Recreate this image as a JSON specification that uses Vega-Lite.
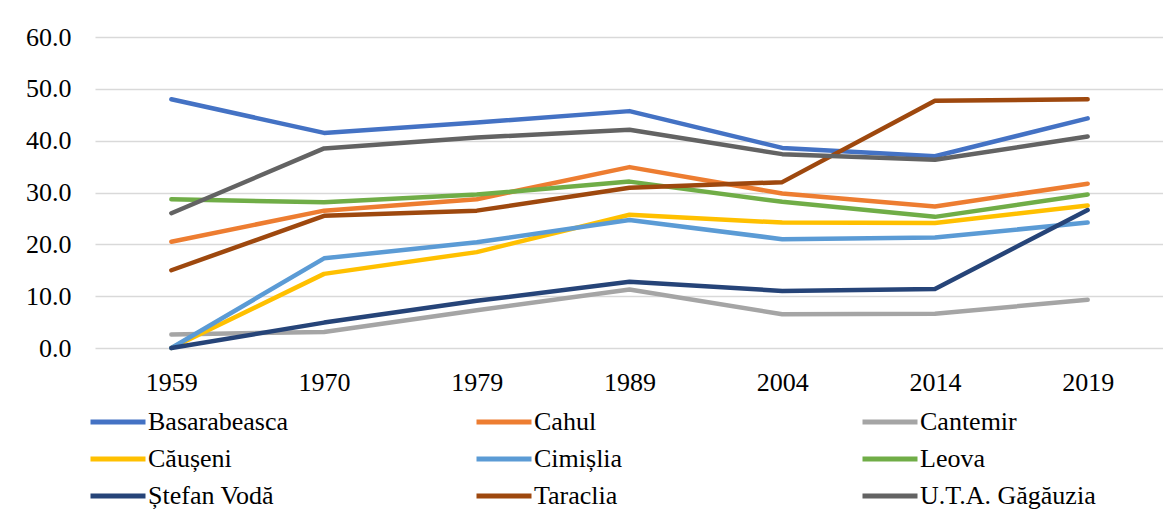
{
  "$schema": "https://vega.github.io/schema/vega-lite/v6.json",
  "autosize": "none",
  "width": 1069,
  "height": 311,
  "padding": {"left": 95, "top": 37, "right": 0, "bottom": 165},
  "background": "white",
  "config": {
    "font": "'Liberation Serif', 'Times New Roman', serif",
    "view": {"stroke": null},
    "axis": {"labelFont": "'Liberation Serif', 'Times New Roman', serif", "labelFontSize": 26, "labelColor": "#000000"}
  },
  "data": {
    "values": [
      {"region": "Basarabeasca", "year": "1959", "value": 48.0},
      {"region": "Basarabeasca", "year": "1970", "value": 41.5},
      {"region": "Basarabeasca", "year": "1979", "value": 43.5},
      {"region": "Basarabeasca", "year": "1989", "value": 45.7},
      {"region": "Basarabeasca", "year": "2004", "value": 38.6},
      {"region": "Basarabeasca", "year": "2014", "value": 37.0},
      {"region": "Basarabeasca", "year": "2019", "value": 44.3},
      {"region": "Cahul", "year": "1959", "value": 20.5},
      {"region": "Cahul", "year": "1970", "value": 26.5},
      {"region": "Cahul", "year": "1979", "value": 28.7},
      {"region": "Cahul", "year": "1989", "value": 34.9},
      {"region": "Cahul", "year": "2004", "value": 29.8},
      {"region": "Cahul", "year": "2014", "value": 27.3},
      {"region": "Cahul", "year": "2019", "value": 31.7},
      {"region": "Cantemir", "year": "1959", "value": 2.6},
      {"region": "Cantemir", "year": "1970", "value": 3.1},
      {"region": "Cantemir", "year": "1979", "value": 7.3},
      {"region": "Cantemir", "year": "1989", "value": 11.3},
      {"region": "Cantemir", "year": "2004", "value": 6.5},
      {"region": "Cantemir", "year": "2014", "value": 6.6},
      {"region": "Cantemir", "year": "2019", "value": 9.3},
      {"region": "Căușeni", "year": "1959", "value": 0.0},
      {"region": "Căușeni", "year": "1970", "value": 14.3},
      {"region": "Căușeni", "year": "1979", "value": 18.5},
      {"region": "Căușeni", "year": "1989", "value": 25.7},
      {"region": "Căușeni", "year": "2004", "value": 24.2},
      {"region": "Căușeni", "year": "2014", "value": 24.1},
      {"region": "Căușeni", "year": "2019", "value": 27.5},
      {"region": "Cimișlia", "year": "1959", "value": 0.0},
      {"region": "Cimișlia", "year": "1970", "value": 17.3},
      {"region": "Cimișlia", "year": "1979", "value": 20.4},
      {"region": "Cimișlia", "year": "1989", "value": 24.7},
      {"region": "Cimișlia", "year": "2004", "value": 21.0},
      {"region": "Cimișlia", "year": "2014", "value": 21.3},
      {"region": "Cimișlia", "year": "2019", "value": 24.2},
      {"region": "Leova", "year": "1959", "value": 28.7},
      {"region": "Leova", "year": "1970", "value": 28.1},
      {"region": "Leova", "year": "1979", "value": 29.6},
      {"region": "Leova", "year": "1989", "value": 32.1},
      {"region": "Leova", "year": "2004", "value": 28.2},
      {"region": "Leova", "year": "2014", "value": 25.3},
      {"region": "Leova", "year": "2019", "value": 29.6},
      {"region": "Ștefan Vodă", "year": "1959", "value": 0.0},
      {"region": "Ștefan Vodă", "year": "1970", "value": 4.9},
      {"region": "Ștefan Vodă", "year": "1979", "value": 9.1},
      {"region": "Ștefan Vodă", "year": "1989", "value": 12.8},
      {"region": "Ștefan Vodă", "year": "2004", "value": 11.0},
      {"region": "Ștefan Vodă", "year": "2014", "value": 11.4},
      {"region": "Ștefan Vodă", "year": "2019", "value": 26.6},
      {"region": "Taraclia", "year": "1959", "value": 15.0},
      {"region": "Taraclia", "year": "1970", "value": 25.5},
      {"region": "Taraclia", "year": "1979", "value": 26.5},
      {"region": "Taraclia", "year": "1989", "value": 30.9},
      {"region": "Taraclia", "year": "2004", "value": 32.0},
      {"region": "Taraclia", "year": "2014", "value": 47.7},
      {"region": "Taraclia", "year": "2019", "value": 48.0},
      {"region": "U.T.A. Găgăuzia", "year": "1959", "value": 26.0},
      {"region": "U.T.A. Găgăuzia", "year": "1970", "value": 38.5},
      {"region": "U.T.A. Găgăuzia", "year": "1979", "value": 40.6},
      {"region": "U.T.A. Găgăuzia", "year": "1989", "value": 42.1},
      {"region": "U.T.A. Găgăuzia", "year": "2004", "value": 37.4},
      {"region": "U.T.A. Găgăuzia", "year": "2014", "value": 36.3},
      {"region": "U.T.A. Găgăuzia", "year": "2019", "value": 40.8}
    ]
  },
  "mark": {"type": "line", "strokeWidth": 4.5, "strokeCap": "round", "strokeJoin": "round"},
  "encoding": {
    "x": {
      "field": "year", "type": "ordinal", "title": null,
      "scale": {"type": "point", "padding": 0.5},
      "axis": {"labelAngle": 0, "domain": false, "ticks": false, "labelPadding": 21, "grid": false}
    },
    "y": {
      "field": "value", "type": "quantitative", "title": null,
      "scale": {"domain": [0, 60], "nice": false},
      "axis": {"values": [0, 10, 20, 30, 40, 50, 60], "format": ".1f", "domain": false, "ticks": false,
               "labelPadding": 24, "gridColor": "#D9D9D9", "gridWidth": 1.5}
    },
    "color": {
      "field": "region", "type": "nominal", "title": null,
      "scale": {
        "domain": ["Basarabeasca", "Cahul", "Cantemir", "Căușeni", "Cimișlia", "Leova", "Ștefan Vodă", "Taraclia", "U.T.A. Găgăuzia"],
        "range": ["#4472C4", "#ED7D31", "#A5A5A5", "#FFC000", "#5B9BD5", "#70AD47", "#264478", "#9E480E", "#636363"]
      },
      "legend": {
        "orient": "none", "legendX": -7, "legendY": 370,
        "direction": "horizontal", "columns": 3, "gridAlign": "all",
        "columnPadding": 150, "rowPadding": 7, "clipHeight": 30,
        "symbolType": "stroke", "symbolSize": 3025, "symbolStrokeWidth": 5,
        "labelFont": "'Liberation Serif', 'Times New Roman', serif", "labelFontSize": 26, "labelColor": "#000000",
        "labelOffset": 0, "labelLimit": 400
      }
    }
  }
}
